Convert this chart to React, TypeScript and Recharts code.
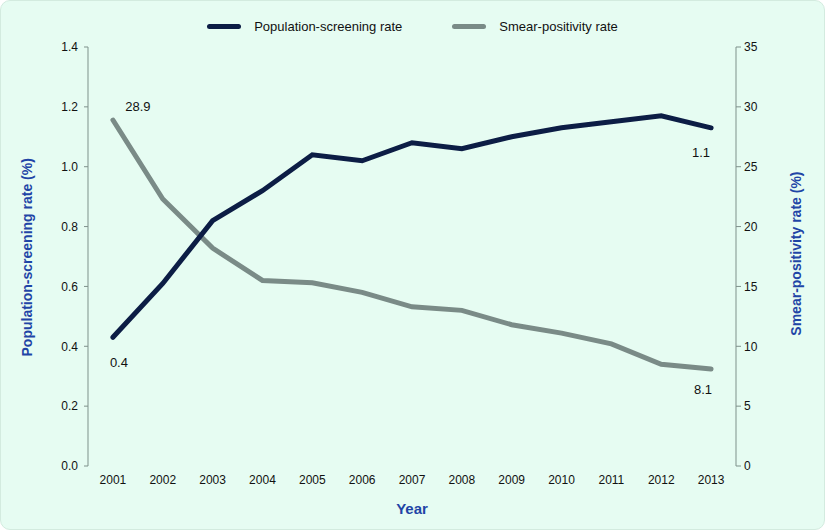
import { LineChart, Line, XAxis, YAxis, Legend, LabelList } from 'recharts';

const years = [2001, 2002, 2003, 2004, 2005, 2006, 2007, 2008, 2009, 2010, 2011, 2012, 2013];
const screeningRate = [0.43, 0.61, 0.82, 0.92, 1.04, 1.02, 1.08, 1.06, 1.1, 1.13, 1.15, 1.17, 1.13];
const smearRate = [28.9, 22.3, 18.2, 15.5, 15.3, 14.5, 13.3, 13.0, 11.8, 11.1, 10.2, 8.5, 8.1];
const leftTicks = [0, 0.2, 0.4, 0.6, 0.8, 1.0, 1.2, 1.4];
const rightTicks = [0, 5, 10, 15, 20, 25, 30, 35];
const boundaryTicks = [...years.map((y) => y - 0.5), years[years.length - 1] + 0.5];

const data = years.map((year, i) => ({ year, screening: screeningRate[i], smear: smearRate[i] }));

const NAVY = '#0c1d45';
const GREY = '#7a8b87';
const AXIS = '#7f918b';
const TITLE = '#1f45a6';
const FONT = '"Liberation Sans", Arial, sans-serif';

const endLabel = (fmt: (v: number) => string, first: [number, number], last: [number, number]) =>
  (props: any) => {
    const { x, y, value, index } = props;
    if (index !== 0 && index !== years.length - 1) return null;
    const [dx, dy] = index === 0 ? first : last;
    return (
      <text x={x + dx} y={y + dy} fontSize={13} fill="#111" fontFamily={FONT} textAnchor="middle">
        {fmt(value)}
      </text>
    );
  };

const legendContent = () => (
  <div style={{ display: 'flex', justifyContent: 'center', alignItems: 'center', fontFamily: FONT, fontSize: 13, color: '#111', height: 16 }}>
    <span style={{ display: 'inline-block', width: 34, height: 5, borderRadius: 3, background: NAVY, marginRight: 13 }} />
    <span style={{ marginRight: 50 }}>Population-screening rate</span>
    <span style={{ display: 'inline-block', width: 34, height: 5, borderRadius: 3, background: GREY, marginRight: 13 }} />
    <span>Smear-positivity rate</span>
  </div>
);

export default function App() {
  return (
    <div
      style={{
        position: 'absolute',
        left: 0,
        top: 0,
        width: 823,
        height: 528,
        background: '#e6fcf2',
        border: '1px solid #d3ebdf',
        borderRadius: 10,
        overflow: 'hidden',
      }}
    >
      <LineChart width={823} height={528} data={data} margin={{ top: 30, right: 20, bottom: 33, left: 16 }}>
        <Legend verticalAlign="top" content={legendContent} wrapperStyle={{ top: 17, left: 0, width: 823 }} />
        <XAxis
          xAxisId="marks"
          dataKey="year"
          type="number"
          domain={[2000.5, 2013.5]}
          ticks={boundaryTicks}
          tickFormatter={() => ''}
          stroke={AXIS}
          tickSize={5}
          height={0}
          allowDataOverflow
        />
        <XAxis
          xAxisId="years"
          dataKey="year"
          type="number"
          domain={[2000.5, 2013.5]}
          ticks={years}
          axisLine={false}
          tickLine={false}
          tickSize={5}
          tickMargin={4}
          height={30}
          tick={{ fill: '#111', fontSize: 12, fontFamily: FONT }}
          label={{ value: 'Year', position: 'insideBottom', offset: -18, fill: TITLE, fontSize: 15, fontWeight: 'bold', fontFamily: FONT }}
          allowDataOverflow
        />
        <YAxis
          yAxisId="left"
          domain={[0, 1.4]}
          ticks={leftTicks}
          tickFormatter={(v: number) => v.toFixed(1)}
          stroke={AXIS}
          tickSize={4}
          tickMargin={6}
          width={71}
          tick={{ fill: '#111', fontSize: 12, fontFamily: FONT }}
          label={{ value: 'Population-screening rate (%)', angle: -90, position: 'insideLeft', offset: 10, dy: 100, fill: TITLE, fontSize: 14, fontWeight: 'bold', fontFamily: FONT }}
        />
        <YAxis
          yAxisId="right"
          orientation="right"
          domain={[0, 35]}
          ticks={rightTicks}
          stroke={AXIS}
          tickSize={5}
          tickMargin={3}
          width={68}
          tick={{ fill: '#111', fontSize: 12, fontFamily: FONT }}
          label={{ value: 'Smear-positivity rate (%)', angle: -90, position: 'insideRight', offset: 8, dy: -85, fill: TITLE, fontSize: 14, fontWeight: 'bold', fontFamily: FONT }}
        />
        <Line
          xAxisId="years"
          yAxisId="right"
          dataKey="smear"
          name="Smear-positivity rate"
          stroke={GREY}
          strokeWidth={5}
          dot={false}
          strokeLinecap="round"
          isAnimationActive={false}
        >
          <LabelList dataKey="smear" content={endLabel((v) => v.toFixed(1), [25, -9], [-8, 25])} />
        </Line>
        <Line
          xAxisId="years"
          yAxisId="left"
          dataKey="screening"
          name="Population-screening rate"
          stroke={NAVY}
          strokeWidth={5}
          dot={false}
          strokeLinecap="round"
          isAnimationActive={false}
        >
          <LabelList dataKey="screening" content={endLabel((v) => v.toFixed(1), [6, 30], [-10, 29])} />
        </Line>
      </LineChart>
    </div>
  );
}
